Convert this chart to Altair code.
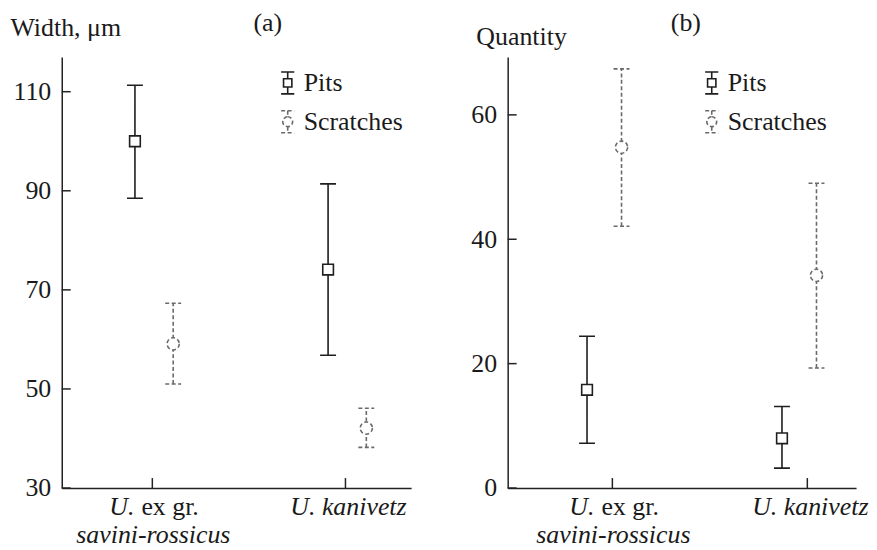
import altair as alt
import pandas as pd

# ---------------- data ----------------
categories = ["U. ex gr. savini-rossicus", "U. kanivetz"]
cat_index = [1, 2]
series = ["Pits", "Scratches"]

# panel (a): Width, μm
width_pits_mean = [100.0, 74.1]
width_pits_low = [88.5, 56.8]
width_pits_high = [111.3, 91.4]
width_scr_mean = [59.1, 42.1]
width_scr_low = [51.0, 38.2]
width_scr_high = [67.3, 46.1]

# panel (b): Quantity
qty_pits_mean = [15.8, 8.0]
qty_pits_low = [7.2, 3.2]
qty_pits_high = [24.4, 13.1]
qty_scr_mean = [54.8, 34.2]
qty_scr_low = [42.1, 19.3]
qty_scr_high = [67.4, 49.0]

width_ticks = [30, 50, 70, 90, 110]
qty_ticks = [0, 20, 40, 60]

# ---------------- style ----------------
FONT = "Liberation Serif"
TXT = "#1a1a1a"
FS = 26
W, H = 351, 433
COLORS = {"Pits": "#1e1e1e", "Scratches": "#6a6a6a"}
DASH = {"Pits": [1, 0], "Scratches": [4, 2.5]}
SHAPE = {"Pits": "square", "Scratches": "circle"}
SIZE = {"Pits": 115, "Scratches": 150}
LEG_PATH = {
    "Pits": "M-0.6,-1H0.6M0,-1V-0.38M-0.38,-0.38H0.38V0.38H-0.38ZM0,0.38V1M-0.6,1H0.6",
    "Scratches": "M-0.6,-1H0.6M0,-1V-0.45M0,-0.45A0.45,0.45 0 1 1 0,0.45A0.45,0.45 0 1 1 0,-0.45M0,0.45V1M-0.6,1H0.6",
}


def make_df(pm, pl, ph, sm, sl, sh):
    rows = []
    for i, c in enumerate(categories):
        rows.append(dict(cat=c, idx=cat_index[i], series="Pits", mean=pm[i], low=pl[i], high=ph[i]))
        rows.append(dict(cat=c, idx=cat_index[i], series="Scratches", mean=sm[i], low=sl[i], high=sh[i]))
    return pd.DataFrame(rows)


def panel(df, ticks, ydom, xdom, offsets, ytitle, title_x, title_y, letter, letter_x,
          leg_x, leg_y, width):
    base = alt.Chart(df).transform_calculate(
        xpos=f"datum.idx + (datum.series == 'Pits' ? {offsets[0]} : {offsets[1]})"
    )
    xenc = alt.X("xpos:Q", scale=alt.Scale(domain=xdom, nice=False, zero=False),
                 axis=alt.Axis(labels=False, ticks=False, domain=True, grid=False, title=None,
                               domainColor="#222", domainWidth=1.5))
    yscale = alt.Scale(domain=ydom, nice=False, zero=False)
    yaxis = alt.Axis(values=ticks, ticks=False, tickSize=0, grid=False, domainColor="#222",
                     domainWidth=1.5, labelPadding=11, labelFont=FONT, labelFontSize=FS,
                     labelColor=TXT, title=ytitle, titleAngle=0, titleX=title_x, titleY=title_y,
                     titleAlign="left", titleBaseline="alphabetic", titleFont=FONT,
                     titleFontSize=FS, titleFontWeight="normal", titleColor=TXT)
    layers = []
    first = True
    for s in series:
        b = base.transform_filter(alt.datum.series == s)
        if first:
            yy = alt.Y("low:Q", scale=yscale, axis=yaxis)
            first = False
        else:
            yy = alt.Y("low:Q")
        layers.append(b.mark_rule(color=COLORS[s], strokeWidth=1.6, strokeDash=DASH[s]).encode(
            x=xenc, y=yy, y2="high:Q"))
        for fld in ["low", "high"]:
            layers.append(b.mark_rule(color=COLORS[s], strokeWidth=1.6, strokeDash=DASH[s],
                                      xOffset=-8, x2Offset=8).encode(
                x="xpos:Q", x2="xpos:Q", y=alt.Y(f"{fld}:Q")))
        layers.append(b.mark_point(shape=SHAPE[s], size=SIZE[s], filled=False, fill="white",
                                   fillOpacity=1, opacity=1, stroke=COLORS[s], strokeWidth=1.6,
                                   strokeDash=DASH[s]).encode(x="xpos:Q", y="mean:Q"))
    # inward ticks on y axis
    ytick_df = pd.DataFrame({"v": ticks})
    layers.append(alt.Chart(ytick_df).mark_rule(color="#222", strokeWidth=1.5).encode(
        y="v:Q", x=alt.value(0), x2=alt.value(9)))
    # inward ticks on x axis
    xtick_df = pd.DataFrame({"idx": cat_index})
    layers.append(alt.Chart(xtick_df).mark_rule(color="#222", strokeWidth=1.5).encode(
        x="idx:Q", y=alt.value(H), y2=alt.value(H - 10)))
    # category labels
    lab = pd.DataFrame({"idx": cat_index})
    lab1 = lab[lab.idx == 1]
    lab2 = lab[lab.idx == 2]
    txt = dict(font=FONT, fontSize=FS, color=TXT, baseline="alphabetic")
    layers.append(alt.Chart(lab1).mark_text(text="U.", align="right", dx=-18, fontStyle="italic", **txt)
                  .encode(x="idx:Q", y=alt.value(H + 27)))
    layers.append(alt.Chart(lab1).mark_text(text="ex gr.", align="left", dx=-11, **txt)
                  .encode(x="idx:Q", y=alt.value(H + 27)))
    layers.append(alt.Chart(lab1).mark_text(text="savini-rossicus", align="center", dx=1,
                                            fontStyle="italic", **txt)
                  .encode(x="idx:Q", y=alt.value(H + 55)))
    layers.append(alt.Chart(lab2).mark_text(text="U. kanivetz", align="center", dx=3,
                                            fontStyle="italic", **txt)
                  .encode(x="idx:Q", y=alt.value(H + 27)))
    # panel letter
    layers.append(alt.Chart(lab1).mark_text(text=letter, align="center", **txt)
                  .encode(x=alt.value(letter_x), y=alt.value(-26)))
    # legend
    leg_df = pd.DataFrame({"series": series})
    layers.append(alt.Chart(leg_df).transform_filter("false")
                  .mark_point(fill="white", filled=False, size=484, strokeWidth=1.6)
                  .encode(
        shape=alt.Shape("series:N", scale=alt.Scale(domain=series, range=[LEG_PATH[s] for s in series]),
                        legend=alt.Legend(orient="none", legendX=leg_x, legendY=leg_y, title=None,
                                          symbolSize=484, symbolStrokeWidth=1.6, symbolFillColor="white",
                                          labelFont=FONT, labelFontSize=FS, labelColor=TXT,
                                          labelOffset=3, rowPadding=9, symbolOpacity=1)),
        stroke=alt.Stroke("series:N", scale=alt.Scale(domain=series, range=[COLORS[s] for s in series])),
        strokeDash=alt.StrokeDash("series:N", scale=alt.Scale(domain=series, range=[DASH[s] for s in series])),
    ))
    return alt.layer(*layers).properties(width=width, height=H)


df_a = make_df(width_pits_mean, width_pits_low, width_pits_high,
               width_scr_mean, width_scr_low, width_scr_high)
df_b = make_df(qty_pits_mean, qty_pits_low, qty_pits_high,
               qty_scr_mean, qty_scr_low, qty_scr_high)

pa = panel(df_a, width_ticks, [30, 117], [0.531, 2.34], (-0.09, 0.108), "Width, μm",
           -52, -22, "(a)", 207, 214, 13, 351)
pb = panel(df_b, qty_ticks, [0, 69.3], [0.463, 2.25], (-0.13, 0.047), "Quantity",
           -32, -13, "(b)", 179, 192, 13, 350)

chart = alt.hconcat(pa, pb, spacing=60).resolve_scale(
    shape="independent", stroke="independent", strokeDash="independent"
).properties(padding={"left": 2, "top": 1, "right": 0, "bottom": 0}).configure_view(stroke=None)

chart.save("out.html", embed_options={"renderer": "svg", "actions": False})
